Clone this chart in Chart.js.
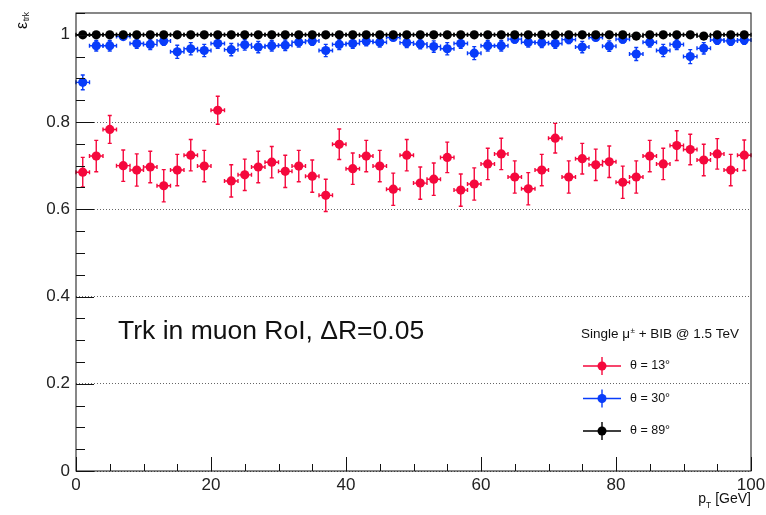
<!DOCTYPE html>
<html>
<head>
<meta charset="utf-8">
<script src="https://cdn.jsdelivr.net/npm/chart.js@4.4.1/dist/chart.umd.min.js"></script>
<style>
  html, body { margin: 0; padding: 0; background: #fff; }
  #wrap { width: 766px; height: 515px; }
</style>
</head>
<body>
<div id="wrap"><canvas id="effChart" width="766" height="515"></canvas></div>
<script>
// bin centres in pT (2 GeV bins)
const ptBins = [1, 3, 5, 7, 9, 11, 13, 15, 17, 19, 21, 23, 25, 27, 29, 31, 33, 35, 37, 39,
  41, 43, 45, 47, 49, 51, 53, 55, 57, 59, 61, 63, 65, 67, 69, 71, 73, 75, 77, 79,
  81, 83, 85, 87, 89, 91, 93, 95, 97, 99];
const binHalfWidth = 1;

// tracking efficiency per bin
const effTheta13 = [0.685, 0.722, 0.783, 0.700, 0.690, 0.697, 0.654, 0.690, 0.724, 0.699,
  0.827, 0.665, 0.679, 0.697, 0.708, 0.687, 0.699, 0.676, 0.632, 0.749,
  0.693, 0.722, 0.699, 0.646, 0.724, 0.660, 0.669, 0.719, 0.644, 0.658,
  0.704, 0.727, 0.674, 0.647, 0.690, 0.763, 0.674, 0.716, 0.702, 0.709,
  0.662, 0.674, 0.722, 0.704, 0.746, 0.737, 0.713, 0.727, 0.690, 0.724];
const errTheta13 = [0.034, 0.036, 0.032, 0.036, 0.037, 0.036, 0.037, 0.036, 0.036, 0.036,
  0.032, 0.037, 0.036, 0.036, 0.036, 0.037, 0.036, 0.037, 0.037, 0.035,
  0.036, 0.036, 0.036, 0.037, 0.036, 0.037, 0.037, 0.035, 0.037, 0.037,
  0.036, 0.036, 0.037, 0.037, 0.036, 0.034, 0.037, 0.035, 0.036, 0.036,
  0.037, 0.037, 0.036, 0.036, 0.034, 0.035, 0.036, 0.035, 0.036, 0.035];

const effTheta30 = [0.891, 0.975, 0.975, 0.996, 0.980, 0.978, 0.986, 0.961, 0.968, 0.964,
  0.980, 0.966, 0.977, 0.972, 0.975, 0.976, 0.983, 0.986, 0.964, 0.978,
  0.980, 0.985, 0.983, 0.994, 0.982, 0.979, 0.973, 0.968, 0.980, 0.958,
  0.975, 0.975, 0.990, 0.983, 0.982, 0.980, 0.989, 0.972, 0.994, 0.974,
  0.990, 0.956, 0.983, 0.964, 0.978, 0.950, 0.969, 0.988, 0.986, 0.988];
const errTheta30 = [0.017, 0.012, 0.012, 0.006, 0.011, 0.012, 0.010, 0.015, 0.014, 0.014,
  0.011, 0.014, 0.012, 0.013, 0.012, 0.012, 0.011, 0.010, 0.014, 0.012,
  0.011, 0.010, 0.011, 0.007, 0.011, 0.011, 0.013, 0.014, 0.011, 0.015,
  0.012, 0.012, 0.009, 0.011, 0.011, 0.011, 0.009, 0.013, 0.007, 0.012,
  0.009, 0.015, 0.011, 0.014, 0.012, 0.016, 0.013, 0.010, 0.010, 0.010];

const effTheta89 = [1.000, 1.000, 1.000, 1.000, 1.000, 1.000, 1.000, 1.000, 1.000, 1.000,
  1.000, 1.000, 1.000, 1.000, 1.000, 1.000, 1.000, 1.000, 1.000, 1.000,
  1.000, 1.000, 1.000, 1.000, 1.000, 1.000, 1.000, 1.000, 1.000, 1.000,
  1.000, 1.000, 1.000, 1.000, 1.000, 1.000, 1.000, 1.000, 1.000, 1.000,
  1.000, 0.997, 1.000, 1.000, 1.000, 1.000, 0.997, 1.000, 1.000, 1.000];
const errTheta89 = [0.003, 0.003, 0.003, 0.003, 0.003, 0.003, 0.003, 0.003, 0.003, 0.003,
  0.003, 0.003, 0.003, 0.003, 0.003, 0.003, 0.003, 0.003, 0.003, 0.003,
  0.003, 0.003, 0.003, 0.003, 0.003, 0.003, 0.003, 0.003, 0.003, 0.003,
  0.003, 0.003, 0.003, 0.003, 0.003, 0.003, 0.003, 0.003, 0.003, 0.003,
  0.003, 0.004, 0.003, 0.003, 0.003, 0.003, 0.004, 0.003, 0.003, 0.003];

const seriesLabels = ["θ = 13°", "θ = 30°", "θ = 89°"];
const seriesColors = ["rgb(245, 8, 60)", "rgb(8, 60, 250)", "rgb(0, 0, 0)"];

const xTickValues = [0, 20, 40, 60, 80, 100];
const xTickLabels = ["0", "20", "40", "60", "80", "100"];
const yTickValues = [0, 0.2, 0.4, 0.6, 0.8, 1];
const yTickLabels = ["0", "0.2", "0.4", "0.6", "0.8", "1"];

const FONT = "'Liberation Sans', Arial, Helvetica, sans-serif";

function toPoints(values) {
  return values.map((v, i) => ({ x: ptBins[i], y: v }));
}

// error bars with small end caps, drawn just under each dataset's markers
const errorBars = {
  id: "errorBars",
  beforeDatasetDraw(chart, args) {
    const ds = chart.data.datasets[args.index];
    const xs = chart.scales.x;
    const ys = chart.scales.y;
    const ctx = chart.ctx;
    const cap = 2;
    ctx.save();
    ctx.strokeStyle = ds.backgroundColor;
    ctx.lineWidth = 1.4;
    ds.data.forEach((p, i) => {
      const cx = xs.getPixelForValue(p.x);
      const cy = ys.getPixelForValue(p.y);
      const x0 = xs.getPixelForValue(p.x - ds.xErr);
      const x1 = xs.getPixelForValue(p.x + ds.xErr);
      const y0 = ys.getPixelForValue(p.y - ds.yErr[i]);
      const y1 = ys.getPixelForValue(p.y + ds.yErr[i]);
      ctx.beginPath();
      ctx.moveTo(x0, cy); ctx.lineTo(x1, cy);
      ctx.moveTo(cx, y0); ctx.lineTo(cx, y1);
      ctx.moveTo(x0, cy - cap); ctx.lineTo(x0, cy + cap);
      ctx.moveTo(x1, cy - cap); ctx.lineTo(x1, cy + cap);
      ctx.moveTo(cx - cap, y0); ctx.lineTo(cx + cap, y0);
      ctx.moveTo(cx - cap, y1); ctx.lineTo(cx + cap, y1);
      ctx.stroke();
    });
    ctx.restore();
  }
};

// frame plus inward-pointing major/minor ticks
const frameTicks = {
  id: "frameTicks",
  afterDatasetsDraw(chart) {
    const { ctx, chartArea: a } = chart;
    const xs = chart.scales.x;
    const ys = chart.scales.y;
    ctx.save();
    ctx.strokeStyle = "#111";
    ctx.lineWidth = 1;
    ctx.strokeRect(a.left, a.top, a.right - a.left, a.bottom - a.top);
    ctx.beginPath();
    for (let v = 0; v <= 100; v += 5) {
      const px = Math.round(xs.getPixelForValue(v)) + 0.5;
      const len = v % 20 === 0 ? 14 : 7;
      ctx.moveTo(px, a.bottom);
      ctx.lineTo(px, a.bottom - len);
    }
    for (let k = 0; k <= 21; k++) {
      const v = k * 0.05;
      const py = Math.round(ys.getPixelForValue(v)) + 0.5;
      const len = k % 4 === 0 ? 18 : 9;
      ctx.moveTo(a.left, py);
      ctx.lineTo(a.left + len, py);
    }
    ctx.stroke();
    ctx.restore();
  }
};

// axis titles, caption and legend
const annotations = {
  id: "annotations",
  afterDraw(chart) {
    const ctx = chart.ctx;
    const a = chart.chartArea;
    ctx.save();
    ctx.fillStyle = "#111";
    ctx.textBaseline = "alphabetic";

    // y title: epsilon_trk, rotated
    ctx.save();
    ctx.translate(27, 29);
    ctx.rotate(-Math.PI / 2);
    ctx.font = "16px " + FONT;
    ctx.textAlign = "left";
    ctx.fillText("ε", 0, 0);
    const ew = ctx.measureText("ε").width;
    ctx.font = "8.5px " + FONT;
    ctx.fillText("trk", ew + 0.5, 2);
    ctx.restore();

    // x title: p_T [GeV], right aligned to the frame
    ctx.font = "14px " + FONT;
    const pW = ctx.measureText("p").width;
    const gevW = ctx.measureText("[GeV]").width;
    ctx.font = "8.5px " + FONT;
    const tW = ctx.measureText("T").width;
    const total = pW + tW + 4 + gevW;
    let x = a.right - total;
    ctx.textAlign = "left";
    ctx.font = "14px " + FONT;
    ctx.fillText("p", x, 503);
    x += pW;
    ctx.font = "8.5px " + FONT;
    ctx.fillText("T", x, 507.5);
    x += tW + 4;
    ctx.font = "14px " + FONT;
    ctx.fillText("[GeV]", x, 503);

    // caption
    ctx.font = "26.5px " + FONT;
    ctx.fillText("Trk in muon RoI, ΔR=0.05", 118, 339);

    // legend title
    ctx.font = "13.5px " + FONT;
    let lx = 581;
    ctx.fillText("Single μ", lx, 338);
    lx += ctx.measureText("Single μ").width;
    ctx.font = "8px " + FONT;
    ctx.fillText("±", lx + 0.5, 333);
    lx += ctx.measureText("±").width + 0.5;
    ctx.font = "13.5px " + FONT;
    ctx.fillText(" + BIB @ 1.5 TeV", lx, 338);

    // legend entries
    const rows = [366, 398.5, 431];
    rows.forEach((ry, i) => {
      ctx.strokeStyle = seriesColors[i];
      ctx.fillStyle = seriesColors[i];
      ctx.lineWidth = 1.4;
      ctx.beginPath();
      ctx.moveTo(583, ry); ctx.lineTo(621, ry);
      ctx.moveTo(602, ry - 9); ctx.lineTo(602, ry + 9);
      ctx.stroke();
      ctx.beginPath();
      ctx.arc(602, ry, 4.5, 0, Math.PI * 2);
      ctx.fill();
      ctx.fillStyle = "#111";
      ctx.font = "12.5px " + FONT;
      ctx.textBaseline = "middle";
      ctx.fillText(seriesLabels[i], 630, ry);
      ctx.textBaseline = "alphabetic";
    });
    ctx.restore();
  }
};

function makeDataset(i, values, errs, order) {
  return {
    label: seriesLabels[i],
    data: toPoints(values),
    yErr: errs,
    xErr: binHalfWidth,
    backgroundColor: seriesColors[i],
    borderColor: seriesColors[i],
    borderWidth: 0,
    pointRadius: 4.6,
    pointHoverRadius: 4.6,
    showLine: false,
    order: order
  };
}

// keep tick-label overhang from shrinking the plot frame
function noOverhang(scale) {
  scale.paddingLeft = 0;
  scale.paddingRight = 0;
  scale.paddingTop = 0;
  scale.paddingBottom = 0;
}

const ctx = document.getElementById("effChart").getContext("2d");
new Chart(ctx, {
  type: "scatter",
  data: {
    datasets: [
      makeDataset(0, effTheta13, errTheta13, 2),
      makeDataset(1, effTheta30, errTheta30, 1),
      makeDataset(2, effTheta89, errTheta89, 0)
    ]
  },
  options: {
    responsive: false,
    animation: false,
    devicePixelRatio: 1,
    layout: { padding: { top: 13, right: 15, left: 0, bottom: 0 } },
    plugins: {
      legend: { display: false },
      tooltip: { enabled: false }
    },
    scales: {
      x: {
        type: "linear",
        min: 0,
        max: 100,
        afterBuildTicks: (scale) => { scale.ticks = xTickValues.map((v) => ({ value: v })); },
        afterFit: (scale) => { scale.height = 44; noOverhang(scale); },
        grid: { display: false, drawTicks: false },
        border: { display: false },
        ticks: {
          padding: 4,
          maxRotation: 0,
          color: "#222",
          font: { family: FONT, size: 17 },
          callback: (v, i) => xTickLabels[i]
        }
      },
      y: {
        type: "linear",
        min: 0,
        max: 1.05,
        afterBuildTicks: (scale) => { scale.ticks = yTickValues.map((v) => ({ value: v })); },
        afterFit: (scale) => { scale.width = 76; noOverhang(scale); },
        grid: { color: "#666", lineWidth: 1, drawTicks: false },
        border: { display: false, dash: [1, 2] },
        ticks: {
          padding: 6,
          color: "#222",
          font: { family: FONT, size: 17 },
          callback: (v, i) => yTickLabels[i]
        }
      }
    }
  },
  plugins: [errorBars, frameTicks, annotations]
});
</script>
</body>
</html>
